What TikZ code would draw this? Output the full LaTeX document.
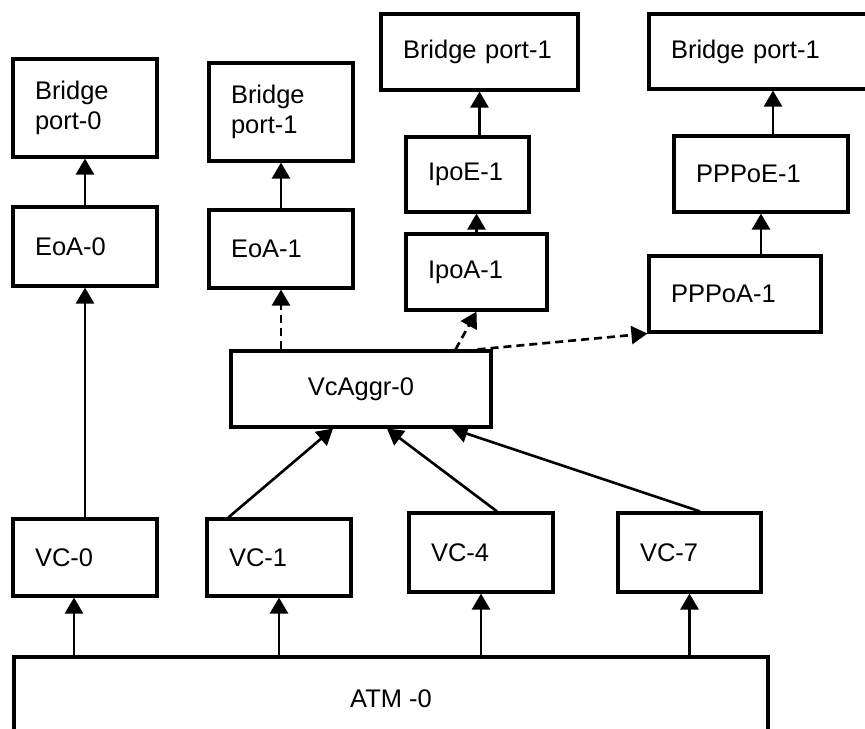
\documentclass[tikz,border=0pt]{standalone}
\usepackage{fontspec}
\setmainfont{Liberation Sans}
\usetikzlibrary{arrows.meta}
\begin{document}
\begin{tikzpicture}[x=0.02cm,y=-0.02cm,
	font=\fontsize{14.5}{17.4}\selectfont,
	box/.style 2 args={draw,line width=1.8pt,inner xsep=0.44cm,inner ysep=0pt,
		align=left,text width=#1,minimum height=#2},
	cbox/.style 2 args={draw,line width=1.8pt,inner sep=0pt,
		minimum width=#1,minimum height=#2},
	arr/.style={line width=1.5pt,-{Triangle[width=0.36cm,length=0.32cm]}},
	darr/.style={arr,dash pattern=on 0.16cm off 0.1cm}]
			\useasboundingbox (0,0) rectangle (865,729);
			\clip (0,0) rectangle (865,729);
			% top row
			\node[box={2cm}{1.96cm}] (bp0) at (85,108) {Bridge\\port-0};
			\node[box={2cm}{1.96cm}] (bp1a) at (281,112) {Bridge\\port-1};
			\node[box={3.06cm}{1.52cm}] (bp1b) at (479.5,52) {Bridge port-1};
			\node[box={3.78cm}{1.5cm}] (bp1c) at (765.5,51.5) {Bridge port-1};
			\node[box={2cm}{1.58cm}] (eoa0) at (85,246.5) {EoA-0};
			\node[box={2cm}{1.56cm}] (eoa1) at (281,249) {EoA-1};
			\node[box={1.58cm}{1.5cm}] (ipoe) at (467.5,174.5) {IpoE-1};
			\node[box={1.94cm}{1.52cm}] (ipoa) at (476.5,272) {IpoA-1};
			\node[box={2.6cm}{1.52cm}] (pppoe) at (761,174) {PPPoE-1};
			\node[box={2.56cm}{1.52cm}] (pppoa) at (735,294) {PPPoA-1};
			\node[cbox={5.2cm}{1.52cm}] (vcaggr) at (361,389) {VcAggr-0};
			% VCs and ATM
			\node[box={2cm}{1.54cm}] (vc0) at (85,557.5) {VC-0};
			\node[box={2cm}{1.54cm}] (vc1) at (279,557.5) {VC-1};
			\node[box={2cm}{1.58cm}] (vc4) at (481,552.5) {VC-4};
			\node[box={1.98cm}{1.58cm}] (vc7) at (689.5,552.5) {VC-7};
			\node[cbox={15.08cm}{1.66cm}] (atm) at (391,698.5) {ATM -0};
			\coordinate (a0) at ([xshift=-0.22cm]vc0.south);
			\coordinate (pe) at ([xshift=0.24cm]pppoe.north);
			% ATM to VCs
			\draw[arr] (a0 |- atm.north) -- (a0);
			\foreach \v in {vc1,vc4,vc7}
			\draw[arr] (atm.north -| \v.south) -- (\v.south);
			% VCs upward
			\draw[arr] (vc0.north) -- (eoa0.south);
			\draw[arr] ([xshift=0.46cm]vc1.north west) -- ([xshift=-0.56cm]vcaggr.south);
			\draw[arr] ([xshift=0.32cm]vc4.north) -- ([xshift=0.52cm]vcaggr.south);
			\draw[arr] ([xshift=0.21cm]vc7.north) -- ([xshift=-0.82cm]vcaggr.south east);
			% VcAggr to the upper layers
			\draw[darr] (eoa1.south |- vcaggr.north) -- (eoa1.south);
			\draw[darr] ([xshift=-0.74cm]vcaggr.north east) -- (ipoa.south);
			\draw[darr] ([xshift=-0.3cm]vcaggr.north east) -- (pppoa.south west);
			% stacks to bridge ports
			\draw[arr] (eoa0.north) -- (bp0.south);
			\draw[arr] (eoa1.north) -- (bp1a.south);
			\draw[arr] (ipoa.north) -- (ipoa.north |- ipoe.south);
			\draw[arr] (bp1b.south |- ipoe.north) -- (bp1b.south);
			\draw[arr] (pppoe.south |- pppoa.north) -- (pppoe.south);
			\draw[arr] (pe) -- (pe |- bp1c.south);
		\end{tikzpicture}
\end{document}
